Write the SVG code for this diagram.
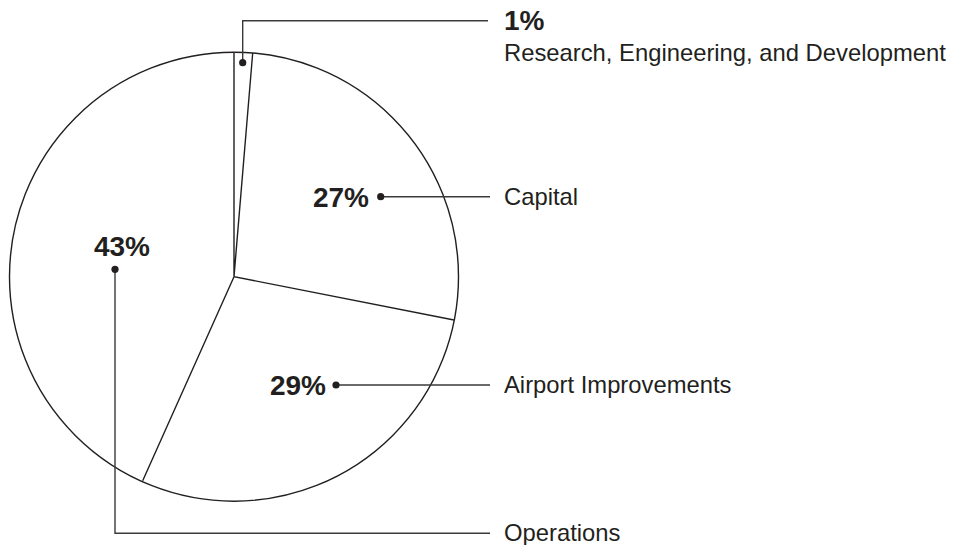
<svg xmlns="http://www.w3.org/2000/svg" width="969" height="545" viewBox="0 0 969 545">
<style>
.pie{fill:#fff;stroke:#231f20;stroke-width:1.4}
.lead{fill:none;stroke:#3a3a3a;stroke-width:1.4}
.dot{fill:#231f20}
.pct{font-family:"Liberation Sans",Arial,sans-serif;font-weight:bold;font-size:28px;fill:#231f20}
.lbl{font-family:"Liberation Sans",Arial,sans-serif;font-size:23.8px;fill:#231f20}
</style>
<rect width="969" height="545" fill="#fff"/>
<g id="pie">
<circle class="pie" cx="234" cy="276.7" r="224.5"/>
<path class="pie" fill="none" d="M234,52.2 L234,276.7 L454,320 M234,276.7 L142.7,480.7 M234,276.7 L252.7,53"/>
</g>
<g id="connectors">
<polyline class="lead" points="242.7,62.7 242.7,20.7 488,20.7"/>
<line class="lead" x1="380.7" y1="196.7" x2="490" y2="196.7"/>
<line class="lead" x1="336" y1="385" x2="490" y2="385"/>
<polyline class="lead" points="115,269.3 115,533.3 490,533.3"/>
<circle class="dot" cx="242.7" cy="62.7" r="3.6"/>
<circle class="dot" cx="380.7" cy="196.7" r="3.6"/>
<circle class="dot" cx="336" cy="385" r="3.6"/>
<circle class="dot" cx="115" cy="269.3" r="3.6"/>
</g>
<g id="node-rd">
<text class="pct" x="504" y="30">1%</text>
<text class="lbl" x="504" y="61">Research, Engineering, and Development</text>
</g>
<g id="node-capital">
<text class="pct" x="369" y="207" text-anchor="end">27%</text>
<text class="lbl" x="504" y="205">Capital</text>
</g>
<g id="node-airport">
<text class="pct" x="326" y="395" text-anchor="end">29%</text>
<text class="lbl" x="504" y="393">Airport Improvements</text>
</g>
<g id="node-operations">
<text class="pct" x="122" y="256" text-anchor="middle">43%</text>
<text class="lbl" x="504" y="541">Operations</text>
</g>
</svg>
